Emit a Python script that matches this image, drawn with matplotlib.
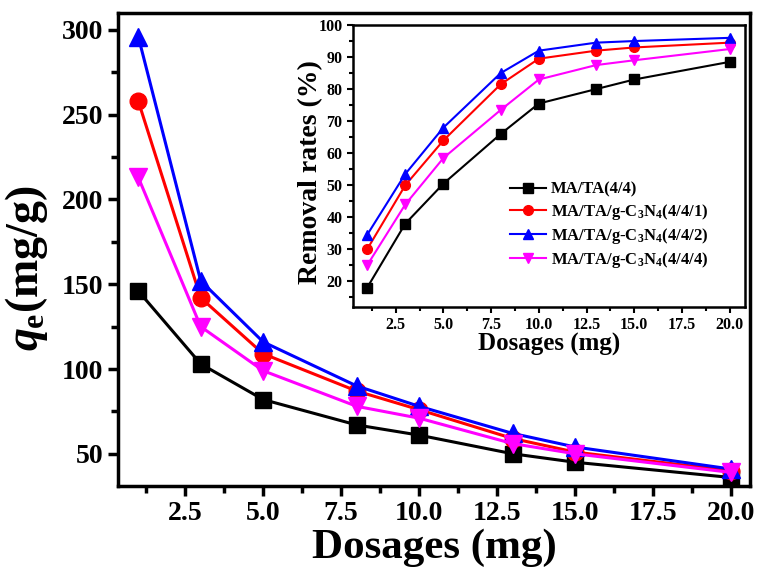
import matplotlib
matplotlib.use("Agg")
import matplotlib.pyplot as plt
from matplotlib.ticker import MultipleLocator

plt.rcParams['font.family'] = 'Liberation Serif'
plt.rcParams['font.weight'] = 'bold'
plt.rcParams['mathtext.fontset'] = 'custom'
plt.rcParams['mathtext.rm'] = 'Liberation Serif:bold'
plt.rcParams['mathtext.it'] = 'Liberation Serif:italic:bold'
plt.rcParams['mathtext.bf'] = 'Liberation Serif:bold'

# Data
dosage = [1, 3, 5, 8, 10, 13, 15, 20]
labels = ['MA/TA(4/4)',
          'MA/TA/g-C$_3$N$_4$(4/4/1)',
          'MA/TA/g-C$_3$N$_4$(4/4/2)',
          'MA/TA/g-C$_3$N$_4$(4/4/4)']

qe_44 = [146, 103, 82, 67, 61, 50, 45, 36]
qe_441 = [258, 142, 109, 87, 76, 59, 51, 40]
qe_442 = [296, 152, 116, 90, 78, 62, 54, 41]
qe_444 = [213, 125, 99, 78, 71, 56, 50, 39]

rr_44 = [18, 38, 50.5, 66, 75.5, 80, 83, 88.5]
rr_441 = [30, 50, 64, 81.5, 89.5, 92, 93, 94.5]
rr_442 = [34.5, 53.5, 68, 85, 92, 94.5, 95, 96]
rr_444 = [25, 44, 58.5, 73.5, 83, 87.5, 89, 92.5]

colors = ['black', 'red', 'blue', 'magenta']
markers = ['s', 'o', '^', 'v']
main_ms = [11, 12, 13, 13]

fig = plt.figure(figsize=(7.58, 5.74), dpi=100)

# Main plot
ax = fig.add_axes([0.1557, 0.1533, 0.8337, 0.8241])
for y, c, m, ms, lab in zip([qe_44, qe_441, qe_442, qe_444], colors, markers, main_ms, labels):
    ax.plot(dosage, y, color=c, marker=m, markersize=ms, linewidth=2.2, label=lab)
ax.set_xlim(0.35, 20.6)
ax.set_ylim(31, 310)
ax.xaxis.set_major_locator(MultipleLocator(2.5))
ax.xaxis.set_minor_locator(MultipleLocator(1.25))
ax.yaxis.set_major_locator(MultipleLocator(50))
ax.yaxis.set_minor_locator(MultipleLocator(25))
ax.tick_params(which='both', direction='out', width=2.5, top=False, right=False, labelsize=20)
ax.tick_params(which='major', length=7)
ax.tick_params(which='minor', length=5)
for s in ax.spines.values():
    s.set_linewidth(2.5)
ax.set_xlabel('Dosages (mg)', fontsize=31, fontweight='bold')
ax.xaxis.set_label_coords(0.5, -0.09)
ax.set_ylabel(r'$\mathit{q}_{\mathrm{e}}$(mg/g)', fontsize=33, fontweight='bold')
ax.yaxis.set_label_coords(-0.108, 0.46)

# Inset
ins = fig.add_axes([0.4657, 0.4652, 0.5171, 0.4912])
for y, c, m, lab in zip([rr_44, rr_441, rr_442, rr_444], colors, markers, labels):
    ins.plot(dosage, y, color=c, marker=m, markersize=7, linewidth=1.5, label=lab)
ins.set_xlim(0.26, 20.8)
ins.set_ylim(12, 100)
ins.xaxis.set_major_locator(MultipleLocator(2.5))
ins.xaxis.set_minor_locator(MultipleLocator(1.25))
ins.yaxis.set_major_locator(MultipleLocator(10))
ins.yaxis.set_minor_locator(MultipleLocator(5))
ins.tick_params(which='both', direction='out', width=1.5, top=False, right=False, labelsize=11.5)
ins.tick_params(which='major', length=4)
ins.tick_params(which='minor', length=3)
for s in ins.spines.values():
    s.set_linewidth(1.8)
ins.set_xlabel('Dosages (mg)', fontsize=18, fontweight='bold', labelpad=0)
ins.set_ylabel('Removal rates (%)', fontsize=20, fontweight='bold')
ins.yaxis.set_label_coords(-0.077, 0.48)
ins.legend(loc='upper left', frameon=False, fontsize=12, handlelength=2.2,
           handletextpad=0.25, borderpad=0, borderaxespad=0,
           bbox_to_anchor=(0.4, 0.445), labelspacing=0.25)

fig.savefig('out.png', dpi=100)
